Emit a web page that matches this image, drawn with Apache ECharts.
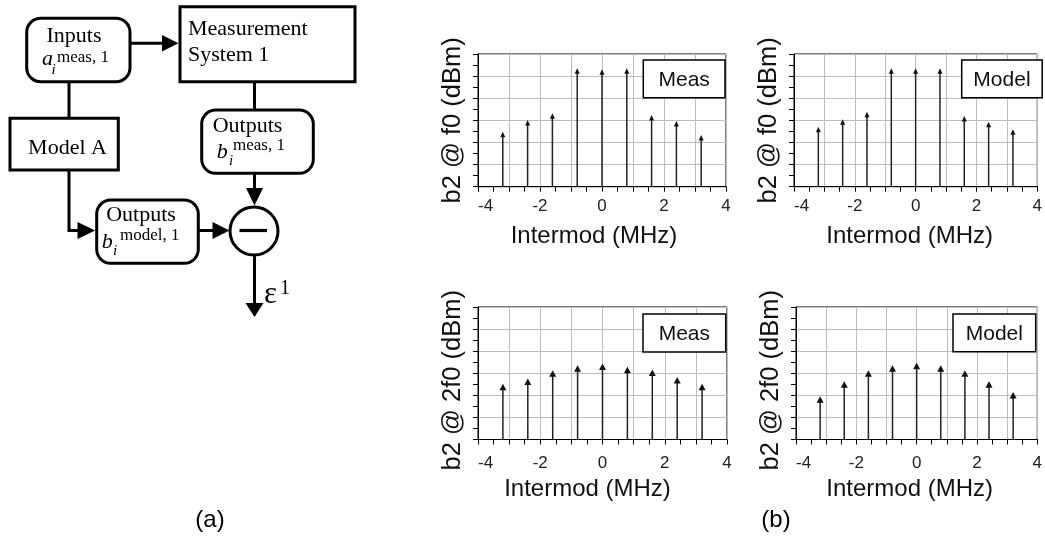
<!DOCTYPE html>
<html>
<head>
<meta charset="utf-8">
<script src="https://cdn.jsdelivr.net/npm/echarts@6/dist/echarts.min.js"></script>
<style>
html,body{margin:0;padding:0;background:#fff;}
#main{width:1045px;height:548px;}
</style>
</head>
<body>
<div id="main"></div>
<script>
// ---- data (y values in dBm, arbitrary reference) ----
const freqs = [-3.2, -2.4, -1.6, -0.8, 0, 0.8, 1.6, 2.4, 3.2];
const f0Meas  = [-35.1, -29.8, -26.8, -6.4, -6.9, -6.4, -27.6, -30.3, -36.6];
const f0Model = [-32.9, -29.5, -26.1, -6.4, -6.4, -6.4, -28.0, -30.6, -34.0];
const f2Meas  = [-34.7, -32.4, -28.6, -26.4, -25.6, -27.1, -28.3, -31.7, -34.7];
const f2Model = [-40.4, -33.6, -28.6, -26.4, -25.3, -26.4, -28.6, -33.6, -38.5];
const xTickLabels = ['-4', '-2', '0', '2', '4'];
const Y_MIN = -60, Y_MAX = 0;
const xTitle = 'Intermod (MHz)';
const yTitles = ['b2 @ f0 (dBm)', 'b2 @ f0 (dBm)', 'b2 @ 2f0 (dBm)', 'b2 @ 2f0 (dBm)'];
const legendTexts = ['Meas', 'Model', 'Meas', 'Model'];
const panelData = [f0Meas, f0Model, f2Meas, f2Model];

const SANS = '"Liberation Sans", Arial, sans-serif';
const SERIF = '"Liberation Serif", "Times New Roman", serif';

const grids = [
  {left: 478, top: 54, width: 248, height: 132.7},
  {left: 794, top: 54, width: 249, height: 132.7},
  {left: 478, top: 307, width: 249, height: 132.5},
  {left: 796, top: 307, width: 249, height: 132.5}
];
const titleShift = [16, 12, 30, 14];
const labelMargin = [11, 11, 15, 15];
const heads = [{w:5,h:5.5},{w:5,h:5.5},{w:7,h:6.5},{w:7,h:6.5}];

function stemRender(head){
  return function(params, api){
    const x = api.value(0), y = api.value(1);
    const top = api.coord([x, y]);
    const base = api.coord([x, Y_MIN]);
    return {
      type: 'group',
      children: [
        {type:'line', shape:{x1:top[0], y1:top[1]+head.h*0.6, x2:base[0], y2:base[1]},
         style:{stroke:'#222', lineWidth:1.5}},
        {type:'polygon', shape:{points:[[top[0], top[1]],[top[0]-head.w/2, top[1]+head.h],[top[0]+head.w/2, top[1]+head.h]]},
         style:{fill:'#111'}}
      ]
    };
  };
}

const option = {
  backgroundColor: '#fff',
  animation: false,
  grid: grids.map(g => Object.assign({show:true, borderColor:'#000', borderWidth:1, containLabel:false}, g)),
  xAxis: grids.map((g, i) => ({
    type: 'value', gridIndex: i, min: -4, max: 4, interval: 1,
    name: xTitle, nameLocation: 'middle', nameGap: 38,
    nameTextStyle: {fontSize: 24, fontFamily: SANS, color: '#111', verticalAlign: 'top', padding: [0, titleShift[i], 0, 0]},
    axisLine: {show: true, onZero: false, lineStyle: {color: '#000', width: 1}},
    axisTick: {show: true, length: 5, lineStyle: {color: '#000'}},
    minorTick: {show: true, splitNumber: 2, length: 5, lineStyle: {color: '#000'}},
    splitLine: {show: true, lineStyle: {color: '#bcbcbc', width: 1}},
    axisLabel: {
      fontSize: 17, fontFamily: SANS, color: '#222', margin: labelMargin[i],
      alignMinLabel: 'left',
      formatter: v => (xTickLabels.indexOf(String(v)) >= 0 ? String(v) : '')
    }
  })),
  yAxis: grids.map((g, i) => ({
    type: 'value', gridIndex: i, min: Y_MIN, max: Y_MAX, interval: 10,
    name: yTitles[i], nameLocation: 'middle', nameGap: 12, nameRotate: 90,
    nameTextStyle: {fontSize: 25.5, fontFamily: SANS, color: '#111',
      padding: i >= 2 ? [0, 14, 0, 0] : [0, 0, 0, 0]},
    axisLine: {show: true, onZero: false, lineStyle: {color: '#000', width: 1}},
    axisTick: {show: true, length: 5, lineStyle: {color: '#000'}},
    minorTick: {show: true, splitNumber: 2, length: 5, lineStyle: {color: '#000'}},
    splitLine: {show: true, lineStyle: {color: '#bcbcbc', width: 1}},
    axisLabel: {show: false}
  })),
  series: panelData.map((vals, i) => ({
    type: 'custom', xAxisIndex: i, yAxisIndex: i,
    renderItem: stemRender(heads[i]),
    encode: {x: 0, y: 1},
    data: freqs.map((f, k) => [f, vals[k]]),
    z: 5
  })),
  graphic: []
};

// legend boxes
const legendBoxes = [
  {x: 643.3, y: 60, w: 81.7, h: 37.7},
  {x: 961.7, y: 60, w: 80.5, h: 37.7},
  {x: 643, y: 314, w: 82.7, h: 38},
  {x: 953, y: 314, w: 82.7, h: 37.7}
];
legendBoxes.forEach((b, i) => {
  option.graphic.push({type:'rect', z: 50, shape:{x:b.x, y:b.y, width:b.w, height:b.h},
    style:{fill:'#fff', stroke:'#000', lineWidth:1.5}});
  option.graphic.push({type:'text', z: 51, x: b.x + b.w/2, y: b.y + b.h/2 + 1,
    style:{text: legendTexts[i], fill:'#111', font: '21px ' + SANS, align:'center', verticalAlign:'middle'}});
});

// ---- block diagram (a) ----
const K = '#000';
function box(x, y, w, h, r){
  return {type:'rect', z: 20, shape:{x, y, width:w, height:h, r: r || 0},
    style:{fill:'#fff', stroke:K, lineWidth:3}};
}
function line(pts){
  return {type:'polyline', z: 19, shape:{points: pts}, style:{stroke:K, lineWidth:3, fill:null}};
}
function tri(pts){
  return {type:'polygon', z: 21, shape:{points: pts}, style:{fill:K}};
}
function txt(text, x, y, font, align){
  return {type:'text', z: 25, x, y, style:{text, fill:'#000', font, align: align || 'left', verticalAlign:'middle'}};
}
const g = option.graphic;
g.push(box(26.7, 18.3, 103.3, 63.4, 14));
g.push(box(180, 6.7, 175, 75));
g.push(box(10, 118.3, 108.3, 51.7));
g.push(box(201.7, 110, 111.6, 63.3, 14));
g.push(box(96.7, 200, 101.6, 63.3, 14));
g.push({type:'circle', z: 20, shape:{cx:254, cy:231, r:24}, style:{fill:'#fff', stroke:K, lineWidth:3}});
g.push({type:'line', z: 22, shape:{x1:239.5, y1:230.5, x2:267, y2:230.5}, style:{stroke:K, lineWidth:3.2}});
// connectors
g.push(line([[130, 43.3], [165, 43.3]]));
g.push(tri([[162, 35], [178.5, 43.3], [162, 51.6]]));
g.push(line([[69, 81.7], [69, 118.3]]));
g.push(line([[69, 170], [69, 230.5], [80, 230.5]]));
g.push(tri([[77.5, 222], [95.2, 230.5], [77.5, 239]]));
g.push(line([[254.5, 81.7], [254.5, 110]]));
g.push(line([[254.5, 173.3], [254.5, 190]]));
g.push(tri([[246, 188], [254.5, 205.5], [263, 188]]));
g.push(line([[198.3, 230.5], [215, 230.5]]));
g.push(tri([[212.5, 222], [229.5, 230.5], [212.5, 239]]));
g.push(line([[254.5, 255], [254.5, 305]]));
g.push(tri([[245.5, 303], [254.5, 317], [263.5, 303]]));
// diagram texts
g.push(txt('Inputs', 74, 36, '22px ' + SERIF, 'center'));
g.push(txt('a', 42, 59.5, 'italic 22px ' + SERIF));
g.push(txt('i', 51.5, 70, 'italic 15px ' + SERIF));
g.push(txt('meas, 1', 57, 58, '17px ' + SERIF));
g.push(txt('Measurement', 188, 29, '22px ' + SERIF));
g.push(txt('System 1', 188, 55, '22px ' + SERIF));
g.push(txt('Model A', 67.5, 148.5, '22px ' + SERIF, 'center'));
g.push(txt('Outputs', 247.5, 126, '22px ' + SERIF, 'center'));
g.push(txt('b', 216.7, 152.5, 'italic 22px ' + SERIF));
g.push(txt('i', 229, 161, 'italic 15px ' + SERIF));
g.push(txt('meas, 1', 233, 146, '17px ' + SERIF));
g.push(txt('Outputs', 141, 215.5, '22px ' + SERIF, 'center'));
g.push(txt('b', 101.7, 242.5, 'italic 22px ' + SERIF));
g.push(txt('i', 113, 251, 'italic 15px ' + SERIF));
g.push(txt('model, 1', 120, 235.2, '17px ' + SERIF));
g.push(txt('\u03B5', 264, 295, '31px ' + SERIF));
g.push(txt('1', 280, 289, '20px ' + SERIF));
// panel labels
g.push(txt('(a)', 210, 520, '24px ' + SANS, 'center'));
g.push(txt('(b)', 776, 520, '24px ' + SANS, 'center'));

const chart = echarts.init(document.getElementById('main'), null, {renderer: 'canvas'});
chart.setOption(option);
</script>
</body>
</html>
